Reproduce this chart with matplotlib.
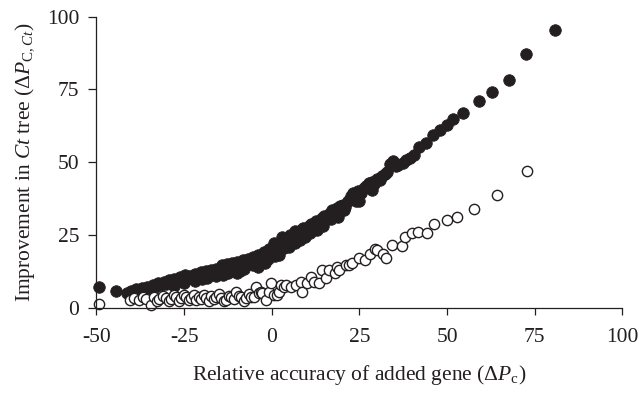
import matplotlib
matplotlib.use("Agg")
import matplotlib.pyplot as plt

plt.rcParams['font.family'] = ['Liberation Serif', 'DejaVu Serif']
plt.rcParams['mathtext.fontset'] = 'custom'
plt.rcParams['mathtext.rm'] = 'Liberation Serif'
plt.rcParams['mathtext.it'] = 'Liberation Serif:italic'
plt.rcParams['axes.unicode_minus'] = False

ink = '#231f20'

# Ct tree, filled circles (x = relative accuracy, y = improvement)
filled_x = [-49.3, -44.4, -41.3, -40.2, -39.5, -38.6, -37.9, -37.0, -36.2, -35.5,
            -34.7, -34.0, -33.2, -32.4, -31.6, -30.8, -30.1, -29.3, -28.5, -27.8,
            -27.0, -26.3, -25.5, -24.8, -24.0, -23.3, -22.5, -21.8, -21.0, -20.3,
            -19.5, -18.8, -18.0, -17.2, -16.5, -15.8, -15.0, -14.3, -13.5, -12.8,
            -12.0, -11.3, -10.5, -9.8, -9.0, -8.3, -7.5, -6.8, -6.0, -5.3,
            -4.5, -3.8, -3.0, -2.3, -1.5, -0.8, 0.0, 0.7, 1.5, 2.2,
            3.0, 3.7, 4.5, 5.2, 6.0, 6.7, 7.5, 8.2, 9.0, 9.7,
            10.5, 11.2, 12.0, 12.7, 13.5, 14.2, 15.0, 15.7, 16.5, 17.2,
            18.0, 18.7, 19.5, 20.2, 21.0, 21.7, 22.5, 23.2, 24.0, 24.7,
            25.5, 26.2, 27.0, 27.7, 28.5, 29.2, 30.0, 30.8, 31.5, 32.3,
            33.0, 33.8, 34.6, 35.3, 36.1, 37.3, 38.4, 39.5, 40.7, 42.1,
            44.1, 45.9, 47.9, 49.9, 51.6, 54.4, 59.0, 62.7, 67.6, 72.4, 80.7,
            -20.0, -16.0, -12.5, -10.0, -8.0, -5.5, -3.5, -1.0, 1.0, 3.5,
            6.5, 9.5, 13.0, 17.0, 20.5, 24.0,
            -28.0, -25.0, -22.0, -18.5, -14.0, -9.0, -4.0, -2.0, 2.0, 5.0,
            8.0, 11.0, 14.5, 19.0, 25.0, 28.5]
filled_y = [7.2, 5.8, 5.1, 6.0, 5.4, 6.5, 6.0, 7.0, 6.4, 7.4,
            6.8, 7.9, 7.3, 8.5, 7.8, 9.0, 8.4, 9.6, 8.8, 9.9,
            9.2, 10.6, 9.5, 11.4, 10.2, 11.0, 10.4, 11.8, 10.7, 12.4,
            11.2, 12.8, 11.6, 13.0, 12.0, 13.4, 12.5, 14.8, 13.2, 15.0,
            13.6, 15.4, 13.0, 15.8, 14.4, 16.6, 15.2, 17.0, 15.9, 17.4,
            16.6, 18.3, 17.2, 19.3, 18.0, 20.2, 18.9, 22.3, 20.2, 21.6,
            24.3, 22.4, 23.6, 25.0, 24.0, 26.5, 25.3, 26.8, 27.5, 26.6,
            28.3, 29.0, 28.1, 29.8, 27.9, 30.8, 31.6, 30.4, 32.6, 33.6,
            32.4, 34.5, 35.0, 35.3, 34.6, 36.6, 38.4, 39.4, 37.9, 40.3,
            39.6, 41.1, 41.8, 42.8, 43.2, 42.4, 44.2, 43.8, 45.4, 46.0,
            46.6, 49.4, 50.4, 48.6, 49.2, 49.7, 50.7, 51.5, 52.4, 55.3,
            56.6, 59.3, 61.0, 62.7, 65.0, 66.8, 70.9, 74.0, 78.1, 87.0, 95.5,
            10.0, 11.0, 12.0, 12.0, 13.5, 14.8, 15.8, 16.8, 18.0, 20.5,
            22.5, 24.5, 26.8, 30.5, 33.5, 36.8,
            7.6, 8.6, 9.2, 10.3, 11.4, 12.6, 14.2, 15.5, 18.3, 21.0,
            23.4, 25.6, 28.0, 31.4, 36.8, 40.6]

# C tree, open circles
open_x = [-49.3, -40.4, -39.2, -37.9, -36.8, -35.9, -34.4, -33.6, -32.8, -32.1,
          -31.0, -30.1, -29.4, -28.7, -28.0, -27.3, -26.5, -25.9, -25.0, -24.4,
          -23.6, -23.0, -22.2, -21.6, -20.8, -20.1, -19.4, -18.7, -17.9, -17.3,
          -16.5, -15.9, -15.1, -14.4, -13.7, -13.0, -12.3, -11.6, -10.9, -10.1,
          -9.4, -8.7, -8.0, -7.3, -6.6, -5.9, -5.0, -4.4, -3.7, -3.0,
          -2.7, -1.6, -0.7, -0.1, 0.6, 1.6, 2.1, 2.7, 3.6, 4.1,
          5.6, 7.0, 8.4, 8.7, 10.1, 11.3, 12.0, 13.6, 14.4, 15.6,
          16.4, 17.9, 18.7, 19.3, 21.3, 22.1, 23.0, 25.0, 26.5, 27.9,
          29.3, 29.9, 31.6, 32.7, 34.4, 37.0, 37.9, 39.9, 41.6, 44.4,
          46.4, 49.9, 52.7, 57.6, 64.1, 72.7]
open_y = [1.5, 2.7, 3.5, 2.7, 3.8, 3.1, 1.2, 3.8, 2.5, 3.1,
          4.2, 3.4, 2.4, 3.1, 4.4, 3.8, 2.6, 3.4, 4.5, 3.8,
          2.8, 3.4, 4.6, 2.7, 3.8, 3.1, 4.6, 3.4, 2.6, 4.0,
          3.2, 3.8, 4.8, 3.4, 2.4, 2.7, 4.3, 3.8, 3.0, 5.5,
          4.2, 3.8, 2.6, 3.4, 4.8, 3.8, 3.8, 7.2, 5.2, 5.5,
          5.1, 2.7, 5.5, 8.6, 4.6, 4.6, 5.5, 7.9, 7.2, 7.9,
          7.2, 7.9, 8.9, 5.5, 8.6, 10.6, 8.8, 8.6, 13.0, 10.3,
          13.0, 12.0, 14.1, 13.0, 14.7, 14.7, 15.4, 17.1, 16.5, 18.5,
          20.2, 19.9, 18.5, 17.1, 21.6, 21.2, 24.3, 25.7, 26.0, 25.7,
          28.8, 30.1, 31.2, 34.0, 38.8, 47.0]

x_ticks = [-50, -25, 0, 25, 50, 75, 100]
y_ticks = [0, 25, 50, 75, 100]

fig = plt.figure(figsize=(6.39, 3.95), dpi=100)
ax = fig.add_axes([0.151, 0.220, 0.823, 0.738])

ax.plot(filled_x, filled_y, 'o', ms=8.3, mfc=ink, mec=ink, mew=0.6, clip_on=False)
ax.plot(open_x, open_y, 'o', ms=7.4, mfc='white', mec=ink, mew=1.0, clip_on=False)

ax.set_xlim(-50, 100)
ax.set_ylim(0, 100)
ax.set_xticks(x_ticks)
ax.set_yticks(y_ticks)
ax.spines['top'].set_visible(False)
ax.spines['right'].set_visible(False)
for s in ['left', 'bottom']:
    ax.spines[s].set_color(ink)
    ax.spines[s].set_linewidth(0.9)
ax.tick_params(axis='x', direction='out', length=5, width=0.9, color=ink,
               labelsize=15.5, labelcolor=ink, pad=9)
ax.tick_params(axis='y', direction='out', length=5.5, width=0.9, color=ink,
               labelsize=15.5, labelcolor=ink, pad=7)

ax.set_xlabel(r'Relative accuracy of added gene ($\Delta P_{\mathrm{c}}$)',
              fontsize=15.5, color=ink, labelpad=12)
ax.set_ylabel(r'Improvement in $Ct$ tree ($\Delta P_{\mathrm{C},Ct}$)',
              fontsize=15.5, color=ink, labelpad=7)

fig.savefig('out.png', dpi=100)
